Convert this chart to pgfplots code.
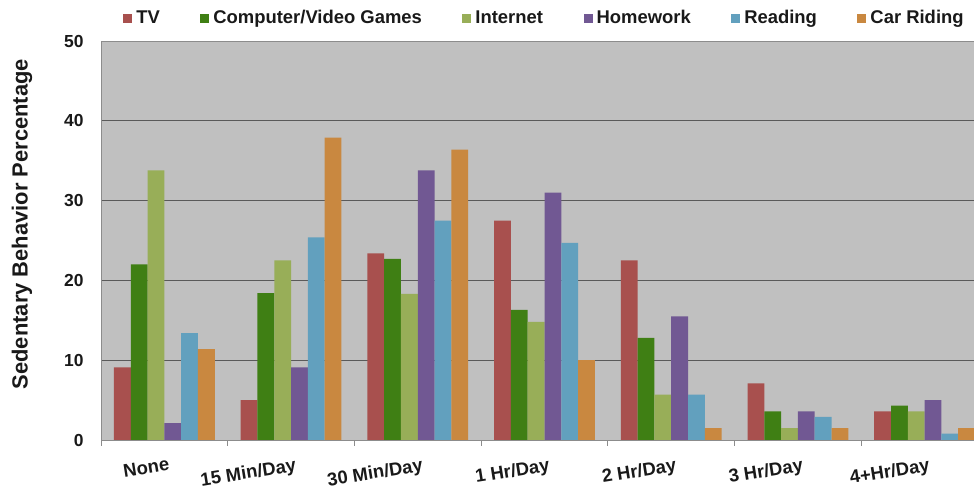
\documentclass[border=0pt]{standalone}
\usepackage{pgfplots}
\pgfplotsset{compat=1.18}
\usepackage{fontspec}
\setmainfont{Liberation Sans}

\definecolor{cTV}{HTML}{A8504E}
\definecolor{cGame}{HTML}{3F7F14}
\definecolor{cNet}{HTML}{98AE58}
\definecolor{cHome}{HTML}{715893}
\definecolor{cRead}{HTML}{62A0BE}
\definecolor{cCar}{HTML}{C98840}
\definecolor{plotbg}{HTML}{C0C0C0}
\definecolor{gridc}{HTML}{5A5A5A}
\definecolor{framec}{HTML}{8C8C8C}

\begin{document}
\begin{tikzpicture}
\begin{axis}[
    set layers,
    scale only axis,
    width=887bp, height=399bp,
    at={(0,0)}, anchor=south west,
    ybar=0pt, bar width=0.1326,
    xmin=-0.5, xmax=6.5,
    ymin=0, ymax=50,
    ytick={0,10,...,50},
    xtick={0,...,6},
    xticklabels={None,15 Min/Day,30 Min/Day,1 Hr/Day,2 Hr/Day,3 Hr/Day,4+Hr/Day},
    minor xtick={-0.5,0.5,...,6.5},
    xtick pos=bottom, ytick pos=left,
    tick align=outside,
    major tick length=0pt,
    minor tick length=6bp,
    minor x tick style={framec, line width=0.8bp},
    ymajorgrids,
    grid style={gridc, line width=0.9bp},
    axis line style={framec, line width=0.9bp},
    axis background/.style={fill=plotbg},
    /pgf/number format/assume math mode=true,
    yticklabel style={font=\fontsize{17.5}{17.5}\selectfont\bfseries, xshift=-14bp, text=black!90},
    xticklabel style={font=\fontsize{18.5}{18.5}\selectfont\bfseries, rotate=9, anchor=north east, inner sep=0pt, yshift=-18bp, xshift=1bp, text=black!90},
    ylabel={Sedentary Behavior Percentage},
    every axis y label/.style={at={(axis description cs:0,0.541)}, xshift=-79bp, rotate=90, anchor=center,
        font=\fontsize{22}{22}\selectfont\bfseries, text=black!90},
    legend columns=-1,
    legend image code/.code={\fill[#1] (0bp,-4.5bp) rectangle (9bp,4.5bp);},
    legend style={draw=none, fill=none, at={(axis description cs:0.5,1)}, anchor=center, yshift=23bp,
        font=\fontsize{18.5}{18.5}\selectfont\bfseries, text=black!90,
        nodes={inner sep=2bp},
        /tikz/every odd column/.append style={column sep=2bp},
        /tikz/every even column/.append style={column sep=38.5bp}},
]
\addplot[fill=cTV, draw=none] coordinates {(0,9.1)(1,5.0)(2,23.4)(3,27.5)(4,22.5)(5,7.1)(6,3.6)};
\addplot[fill=cGame, draw=none] coordinates {(0,22.0)(1,18.4)(2,22.7)(3,16.3)(4,12.8)(5,3.6)(6,4.3)};
\addplot[fill=cNet, draw=none] coordinates {(0,33.8)(1,22.5)(2,18.3)(3,14.8)(4,5.7)(5,1.5)(6,3.6)};
\addplot[fill=cHome, draw=none] coordinates {(0,2.1)(1,9.1)(2,33.8)(3,31.0)(4,15.5)(5,3.6)(6,5.0)};
\addplot[fill=cRead, draw=none] coordinates {(0,13.4)(1,25.4)(2,27.5)(3,24.7)(4,5.7)(5,2.9)(6,0.8)};
\addplot[fill=cCar, draw=none] coordinates {(0,11.4)(1,37.9)(2,36.4)(3,10.0)(4,1.5)(5,1.5)(6,1.5)};
\legend{TV,Computer/Video Games,Internet,Homework,Reading,Car Riding}
\end{axis}
\pgfresetboundingbox
\useasboundingbox (-101bp,-53bp) rectangle (873bp,440bp);
\end{tikzpicture}
\end{document}
